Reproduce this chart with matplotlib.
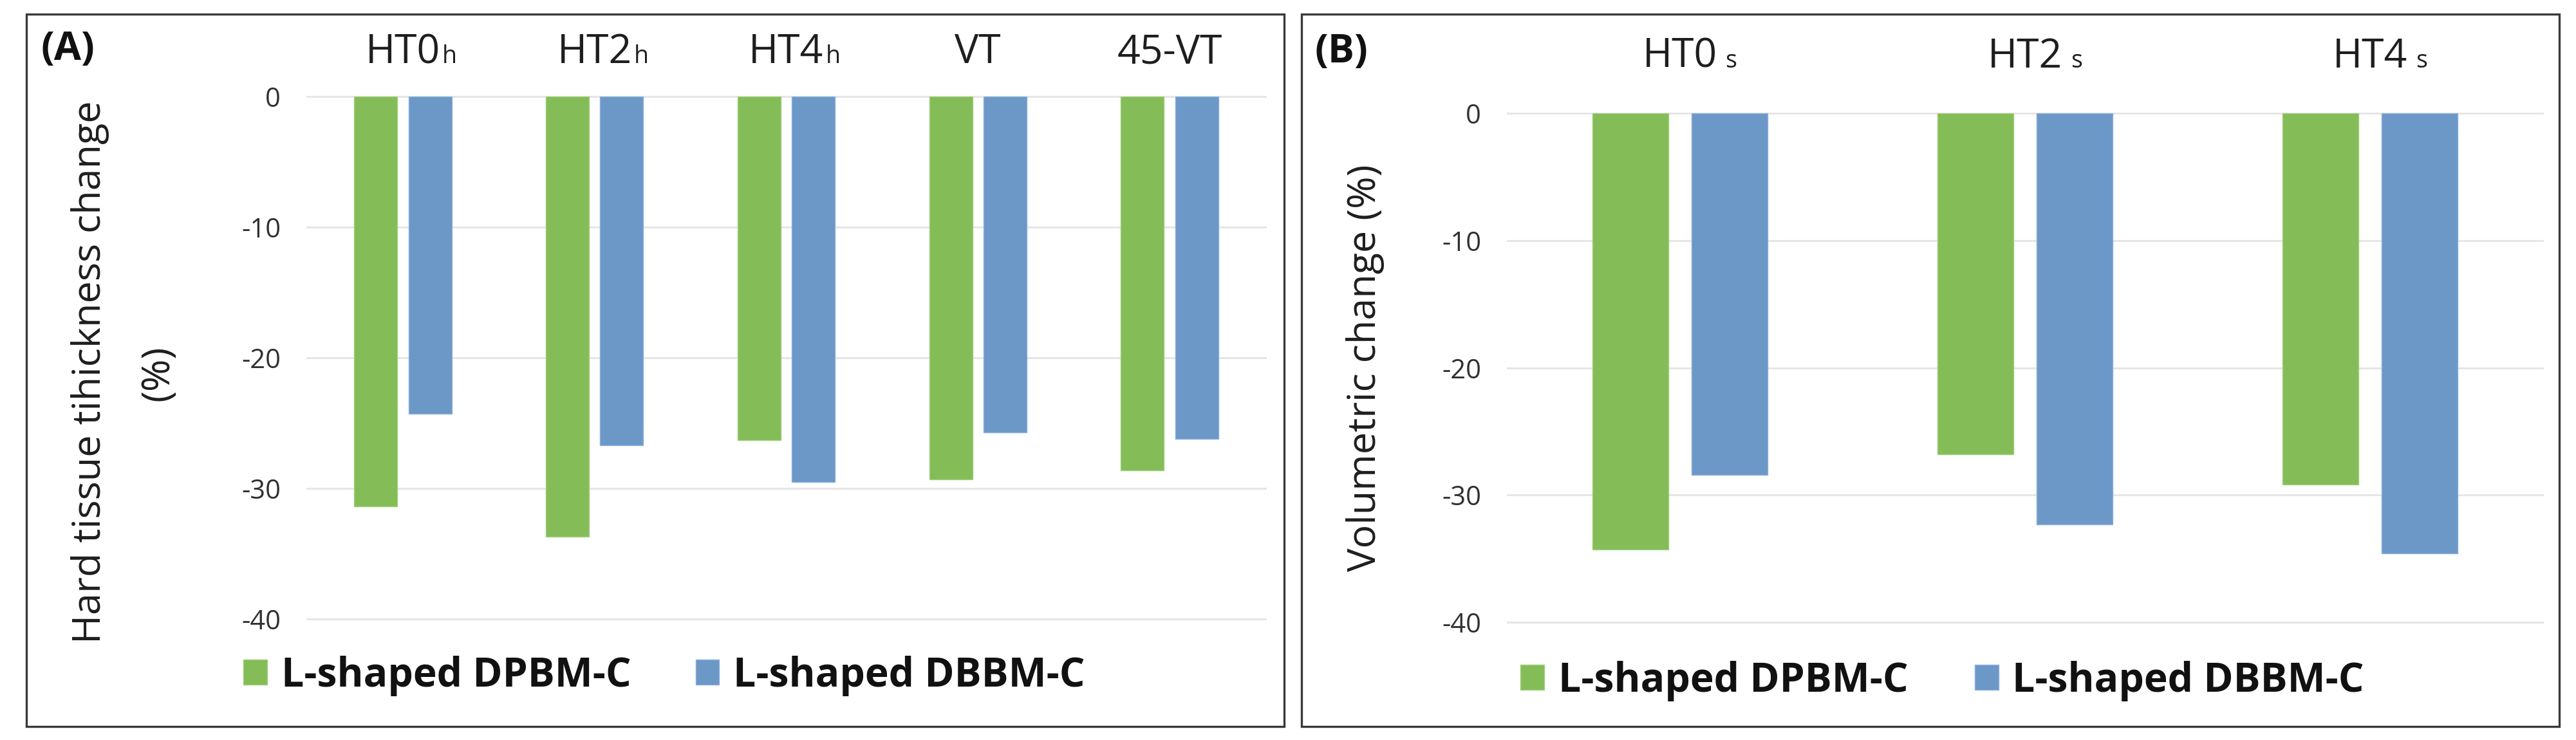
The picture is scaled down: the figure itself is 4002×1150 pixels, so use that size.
import numpy as np
import matplotlib
matplotlib.use('Agg')
import matplotlib.pyplot as plt
from matplotlib.patches import Rectangle

plt.rcParams['font.family'] = ['Open Sans', 'DejaVu Sans']
plt.rcParams['axes.unicode_minus'] = False

# ---------------- data ----------------
cats_a_main = ['HT0', 'HT2', 'HT4', 'VT', '45-VT']
cats_a_sub = ['h', 'h', 'h', '', '']
dpbm_a = [-31.4, -33.7, -26.3, -29.3, -28.6]
dbbm_a = [-24.3, -26.7, -29.5, -25.7, -26.2]

cats_b_main = ['HT0', 'HT2', 'HT4']
cats_b_sub = ['s', 's', 's']
dpbm_b = [-34.3, -26.8, -29.2]
dbbm_b = [-28.4, -32.3, -34.6]

yticks = [0, -10, -20, -30, -40]
series_labels = ['L-shaped DPBM-C', 'L-shaped DBBM-C']
ylabel_a = ['Hard tissue tihickness change', '(%)']
ylabel_b = 'Volumetric change (%)'
panel_labels = ['(A)', '(B)']

GREEN = '#84BC58'
BLUE = '#6C98C8'
GRID = '#E6E6E6'
TXT = '#1e1e1e'

W, H = 4002, 1150
fig = plt.figure(figsize=(W / 100, H / 100), dpi=100)


def fx(px):
    return px / W


def fy(py):
    return 1 - py / H


def axes_px(x0, ytop, x1, ybot):
    return fig.add_axes([fx(x0), fy(ybot), fx(x1) - fx(x0), fy(ytop) - fy(ybot)])


# panel borders
for (x0, y0, x1, y1) in [(41, 22, 1995, 1129), (2022, 22, 3976, 1129)]:
    fig.add_artist(Rectangle((fx(x0), fy(y1)), fx(x1) - fx(x0), fy(y0) - fy(y1),
                             transform=fig.transFigure, fill=False,
                             ec='#3a3a3a', lw=2.4, zorder=10))


def draw_panel(ax, mains, subs, g, b, width, off, label_y, sub_off,
               leg_anchor, colspace):
    x = np.arange(len(mains))
    ax.bar(x - off, g, width, color=GREEN, edgecolor='#9fd07a', linewidth=1.0,
           label=series_labels[0], zorder=3)
    ax.bar(x + off, b, width, color=BLUE, edgecolor='#8ab0dc', linewidth=1.0,
           label=series_labels[1], zorder=3)
    ax.set_xlim(-0.5, len(mains) - 0.5)
    ax.set_ylim(-40, 0)
    ax.set_yticks(yticks)
    ax.set_yticklabels([str(v) for v in yticks])
    ax.set_xticks([])
    ax.yaxis.grid(True, color=GRID, lw=2.2)
    ax.set_axisbelow(True)
    for s in ax.spines.values():
        s.set_visible(False)
    ax.tick_params(axis='y', length=0, pad=29.5, labelsize=30, labelcolor='#303030')
    for gl in ax.get_ygridlines():
        gl.set_clip_on(False)
    tr = ax.get_xaxis_transform()
    for i, (m, s) in enumerate(zip(mains, subs)):
        t = ax.text(i, label_y, m, transform=tr, ha='center', va='baseline',
                    fontsize=45, color=TXT)
        if s:
            ax.annotate(s, xy=(1, label_y), xycoords=(t, tr),
                        xytext=(sub_off, 0), textcoords='offset points',
                        ha='left', va='baseline', fontsize=27, color=TXT)
    leg = ax.legend(loc='center left', bbox_to_anchor=leg_anchor,
                    bbox_transform=fig.transFigure, ncol=2, frameon=False,
                    borderpad=0, borderaxespad=0, handlelength=0.59,
                    handleheight=0.59, handletextpad=0.35,
                    columnspacing=colspace,
                    prop={'weight': 'bold', 'size': 45})
    for t in leg.get_texts():
        t.set_color('#111111')
    return leg


axA = axes_px(477, 150, 1966, 962)
draw_panel(axA, cats_a_main, cats_a_sub, dpbm_a, dbbm_a, 0.225, 0.142,
           1.064, 2.0, (fx(378), fy(1050)), 1.6)

axB = axes_px(2342, 176, 3950, 967)
draw_panel(axB, cats_b_main, cats_b_sub, dpbm_b, dbbm_b, 0.22, 0.143,
           1.09, 9.0, (fx(2362), fy(1058)), 1.65)

# y labels
fig.text(fx(140), fy(578), ylabel_a[0], rotation=90, ha='center', va='center',
         fontsize=44, color=TXT)
fig.text(fx(245), fy(580), ylabel_a[1], rotation=90, ha='center', va='center',
         fontsize=44, color=TXT)
fig.text(fx(2121), fy(572), ylabel_b, rotation=90, ha='center', va='center',
         fontsize=44, color=TXT)

# panel labels
fig.text(fx(63), fy(78), panel_labels[0], ha='left', va='center',
         fontsize=44, fontweight='bold', color='#111111')
fig.text(fx(2042), fy(81), panel_labels[1], ha='left', va='center',
         fontsize=44, fontweight='bold', color='#111111')

fig.savefig('out.png', dpi=100, facecolor='white')
